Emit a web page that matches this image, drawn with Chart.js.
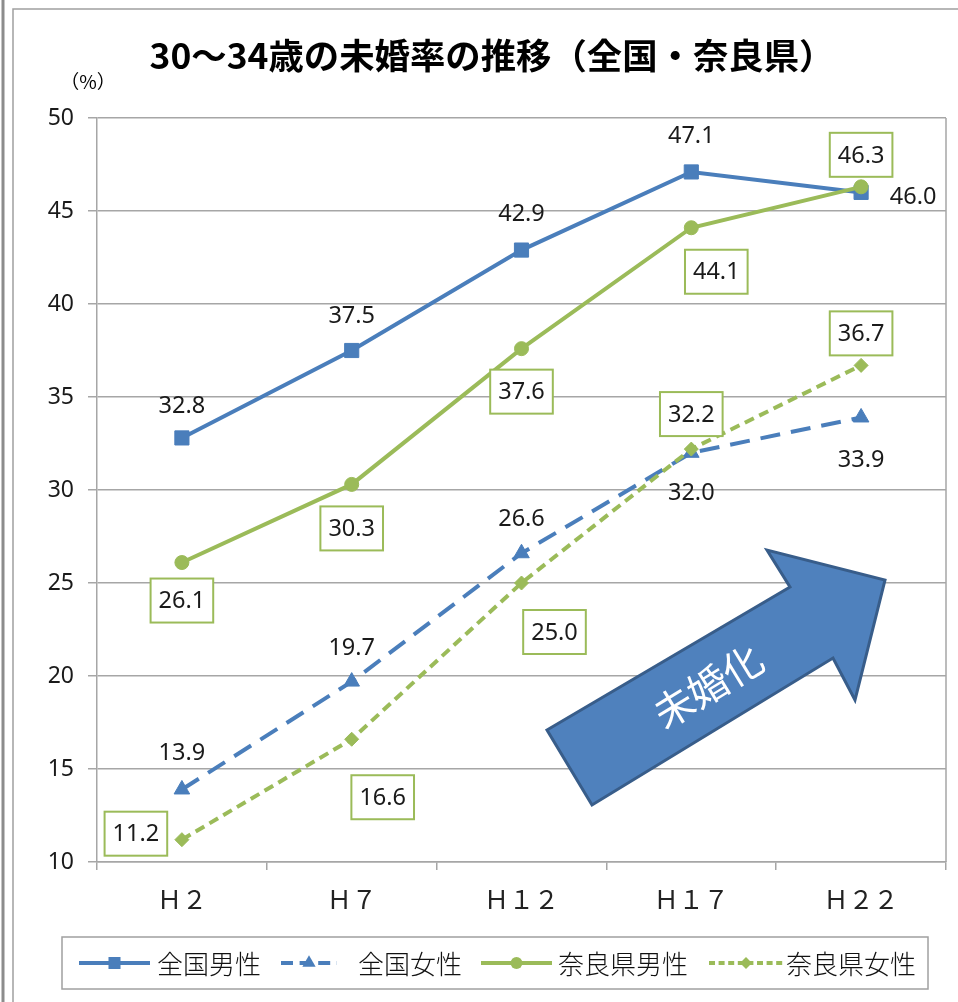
<!DOCTYPE html>
<html>
<head>
<meta charset="utf-8">
<script src="https://cdn.jsdelivr.net/npm/chart.js@4"></script>
<style>
html,body{margin:0;padding:0;background:#fff;}
#wrap{width:958px;height:1002px;position:relative;}
</style>
</head>
<body>
<div id="wrap"><canvas id="c" width="958" height="1002"></canvas></div>
<script>
// ---- data ----
const categories = ['Ｈ２', 'Ｈ７', 'Ｈ１２', 'Ｈ１７', 'Ｈ２２'];
const seriesNames = ['全国男性', '全国女性', '奈良県男性', '奈良県女性'];
const zenkokuMale   = [32.8, 37.5, 42.9, 47.1, 46.0];
const zenkokuFemale = [13.9, 19.7, 26.6, 32.0, 33.9];
const naraMale      = [26.1, 30.3, 37.6, 44.1, 46.3];
const naraFemale    = [11.2, 16.6, 25.0, 32.2, 36.7];
const yMin = 10, yMax = 50, yStep = 5;
const titleText = '30～34歳の未婚率の推移（全国・奈良県）';
const unitText = '（%）';
const arrowText = '未婚化';

// ---- styles ----
const BLUE = '#4a7ebb';
const GREEN = '#9bbb59';
const GRID = '#a6a6a6';
// label offsets (pixels from the point) per series
const labelOffsets = [
  [[0,-33],[0,-35],[0,-37],[0,-37],[52,4]],
  [[0,-37],[0,-34],[0,-35],[0,40],[0,42]],
  [[0,38],[0,44],[0,43],[25,44],[0,-32]],
  [[-46,-6],[31,58],[33,49],[0,-35],[0,-32]]
];
const labelBoxed = [false, false, true, true];

const LABEL_FONT = '23.5px "Noto Sans", "Open Sans", sans-serif';
const JP = '"Noto Sans CJK JP", "Noto Sans", sans-serif';

const datasets = [
  {label: seriesNames[0], data: zenkokuMale, borderColor: BLUE, backgroundColor: BLUE,
   borderWidth: 4, pointStyle: 'rect', pointRadius: 10, pointBorderWidth: 1, order: 1},
  {label: seriesNames[1], data: zenkokuFemale, borderColor: BLUE, backgroundColor: BLUE,
   borderWidth: 4, borderDash: [20, 11], pointStyle: 'triangle', pointRadius: 9, pointBorderWidth: 1, order: 1},
  {label: seriesNames[2], data: naraMale, borderColor: GREEN, backgroundColor: GREEN,
   borderWidth: 4, pointStyle: 'circle', pointRadius: 7, pointBorderWidth: 1, order: 0},
  {label: seriesNames[3], data: naraFemale, borderColor: GREEN, backgroundColor: GREEN,
   borderWidth: 4, borderDash: [10, 6], pointStyle: 'rectRot', pointRadius: 7, pointBorderWidth: 1, order: 0}
];
datasets.forEach(d => { d.tension = 0; d.fill = false; d.pointHoverRadius = d.pointRadius; });

function markerPath(ctx, style, x, y, r) {
  ctx.beginPath();
  if (style === 'rect') {
    const s = Math.SQRT1_2 * r; ctx.rect(x - s, y - s, 2 * s, 2 * s);
  } else if (style === 'circle') {
    ctx.arc(x, y, r, 0, Math.PI * 2);
  } else if (style === 'triangle') {
    ctx.moveTo(x, y - r); ctx.lineTo(x + r * 0.87, y + r * 0.5); ctx.lineTo(x - r * 0.87, y + r * 0.5); ctx.closePath();
  } else if (style === 'rectRot') {
    ctx.moveTo(x, y - r); ctx.lineTo(x + r, y); ctx.lineTo(x, y + r); ctx.lineTo(x - r, y); ctx.closePath();
  }
}

const decorPlugin = {
  id: 'decor',
  beforeDraw(chart) {
    const ctx = chart.ctx;
    ctx.save();
    ctx.fillStyle = '#fff';
    ctx.fillRect(0, 0, chart.width, chart.height);
    // outer frame
    ctx.strokeStyle = '#8c8c8c'; ctx.lineWidth = 3;
    ctx.beginPath(); ctx.moveTo(3, 0); ctx.lineTo(3, chart.height); ctx.stroke();
    ctx.strokeStyle = '#a0a0a0'; ctx.lineWidth = 1.5;
    ctx.beginPath(); ctx.moveTo(13, chart.height); ctx.lineTo(13, 9); ctx.lineTo(chart.width, 9); ctx.stroke();
    // title
    ctx.fillStyle = '#000';
    ctx.font = 'bold 35px ' + JP;
    ctx.textAlign = 'center'; ctx.textBaseline = 'middle';
    const tw = ctx.measureText(titleText).width;
    const sx = Math.min(1.15, 685 / tw);
    ctx.save();
    ctx.translate(492, 56);
    ctx.scale(sx, 1);
    ctx.fillText(titleText, 0, 0);
    ctx.restore();
    ctx.font = '19px ' + JP;
    ctx.fillText(unitText, 88, 82);
    ctx.restore();
  },
  afterDraw(chart) {
    const ctx = chart.ctx, a = chart.chartArea;
    ctx.save();
    // right border of plot area
    ctx.strokeStyle = GRID; ctx.lineWidth = 1.5;
    ctx.beginPath(); ctx.moveTo(a.right, a.top); ctx.lineTo(a.right, a.bottom); ctx.stroke();
    // legend box
    ctx.fillStyle = '#fff';
    ctx.fillRect(62, 937, 866, 52);
    ctx.strokeStyle = '#a0a0a0'; ctx.lineWidth = 1.5;
    ctx.strokeRect(62, 937, 866, 52);
    const items = [
      {x0: 79, x1: 150, tx: 157},
      {x0: 281, x1: 337, tx: 358},
      {x0: 481, x1: 552, tx: 558},
      {x0: 709, x1: 783, tx: 786}
    ];
    const ly = 963;
    items.forEach((it, i) => {
      const d = chart.data.datasets[i];
      ctx.strokeStyle = d.borderColor; ctx.lineWidth = 4;
      ctx.setLineDash(d.borderDash ? d.borderDash.map(v => v * 0.6) : []);
      ctx.beginPath(); ctx.moveTo(it.x0, ly); ctx.lineTo(it.x1, ly); ctx.stroke();
      ctx.setLineDash([]);
      ctx.fillStyle = d.backgroundColor;
      markerPath(ctx, d.pointStyle, (it.x0 + it.x1) / 2, ly, d.pointRadius * 0.85);
      ctx.fill();
      ctx.fillStyle = '#111';
      ctx.font = '300 26px ' + JP;
      ctx.textAlign = 'left'; ctx.textBaseline = 'middle';
      ctx.fillText(d.label, it.tx, ly + 1);
    });
    ctx.restore();
  },
  afterDatasetsDraw(chart) {
    const ctx = chart.ctx;
    ctx.save();
    // arrow
    const pts = [[547,730],[790,587],[767,550],[885,580],[855,700],[833,658],[592,805]];
    ctx.beginPath();
    pts.forEach((p, i) => i ? ctx.lineTo(p[0], p[1]) : ctx.moveTo(p[0], p[1]));
    ctx.closePath();
    ctx.fillStyle = '#4f81bd'; ctx.fill();
    ctx.strokeStyle = '#385d8a'; ctx.lineWidth = 3; ctx.lineJoin = 'miter'; ctx.stroke();
    ctx.translate(708, 686);
    ctx.rotate(-31.4 * Math.PI / 180);
    ctx.fillStyle = '#fff';
    ctx.font = '40px ' + JP;
    ctx.textAlign = 'center'; ctx.textBaseline = 'middle';
    ctx.fillText(arrowText, 0, 0);
    ctx.restore();

    // data labels
    ctx.save();
    ctx.font = LABEL_FONT;
    ctx.textAlign = 'center'; ctx.textBaseline = 'middle';
    chart.data.datasets.forEach((d, di) => {
      const meta = chart.getDatasetMeta(di);
      meta.data.forEach((el, i) => {
        const txt = d.data[i].toFixed(1);
        const x = el.x + labelOffsets[di][i][0];
        const y = el.y + labelOffsets[di][i][1];
        if (labelBoxed[di]) {
          const w = ctx.measureText(txt).width + 16, h = 44;
          ctx.fillStyle = '#fff';
          ctx.fillRect(x - w / 2, y - h / 2, w, h);
          ctx.strokeStyle = GREEN; ctx.lineWidth = 2;
          ctx.strokeRect(x - w / 2, y - h / 2, w, h);
        }
        ctx.fillStyle = '#1a1a1a';
        ctx.fillText(txt, x, y + 1);
      });
    });
    ctx.restore();
  }
};

new Chart(document.getElementById('c'), {
  type: 'line',
  data: {labels: categories, datasets: datasets},
  options: {
    responsive: false,
    animation: false,
    devicePixelRatio: 1,
    layout: {padding: {top: 118, right: 12, left: 0, bottom: 0}},
    plugins: {legend: {display: false}, title: {display: false}, tooltip: {enabled: false}},
    scales: {
      x: {
        offset: true,
        grid: {offset: true, drawOnChartArea: false, drawTicks: true, tickLength: 8, color: GRID, lineWidth: 1.5},
        border: {display: true, color: GRID, width: 1.5},
        ticks: {font: {family: JP, size: 25}, color: '#222', padding: 14, maxRotation: 0},
        afterFit(s) { s.height = 140; }
      },
      y: {
        min: yMin, max: yMax,
        grid: {color: GRID, lineWidth: 1.5, tickLength: 9, drawTicks: true},
        border: {display: true, color: GRID, width: 1.5},
        ticks: {stepSize: yStep, font: {family: '"Noto Sans", "Open Sans", sans-serif', size: 23}, color: '#1a1a1a', padding: 14},
        afterFit(s) { s.width = 97; }
      }
    }
  },
  plugins: [decorPlugin]
});
</script>
</body>
</html>
